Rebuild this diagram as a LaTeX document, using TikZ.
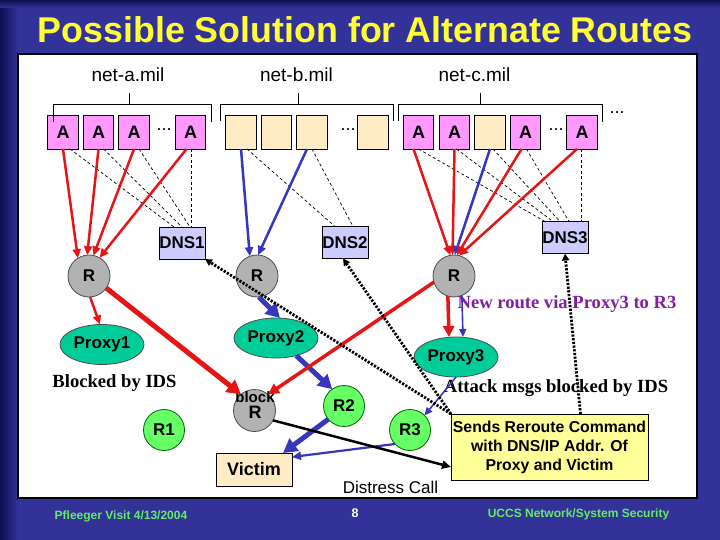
\documentclass[tikz,border=0pt]{standalone}
\usepackage{fontspec}
\setmainfont{Liberation Sans}
\newfontfamily\serifbold{Liberation Serif}
\usetikzlibrary{arrows.meta,shapes.geometric}

\definecolor{slidebg}{RGB}{50,50,152}
\definecolor{navyd}{RGB}{14,14,84}
\definecolor{ttl}{RGB}{255,255,51}
\definecolor{pinkA}{RGB}{255,153,255}
\definecolor{beigeB}{RGB}{255,236,196}
\definecolor{dnsc}{RGB}{204,204,255}
\definecolor{grayR}{RGB}{178,178,178}
\definecolor{proxyc}{RGB}{0,204,153}
\definecolor{greenR}{RGB}{102,255,102}
\definecolor{notec}{RGB}{255,255,153}
\definecolor{redl}{RGB}{230,20,20}
\definecolor{bluel}{RGB}{55,55,190}
\definecolor{purp}{RGB}{128,32,160}
\definecolor{footc}{RGB}{102,235,102}

\newcommand{\fs}[1]{\fontsize{#1}{#1}\selectfont}

\begin{document}
\begin{tikzpicture}[x=1pt,y=-1pt,
  every node/.style={inner sep=0pt,outer sep=0pt},
  abox/.style={draw=black,line width=0.8pt,fill=pinkA,minimum width=30.5pt,minimum height=34pt,font=\bfseries\fs{18}},
  bbox/.style={abox,fill=beigeB},
  dnsbox/.style={draw=black,line width=0.8pt,fill=dnsc,minimum width=46pt,minimum height=32pt,font=\bfseries\fs{17}},
  rnode/.style={circle,draw=black!70,line width=0.8pt,fill=grayR,minimum size=42pt,font=\bfseries\fs{17}},
  gnode/.style={circle,draw=black!60!green,line width=0.8pt,fill=greenR,minimum size=41pt,font=\bfseries\fs{17}},
  proxy/.style={ellipse,draw=black!70,line width=0.8pt,fill=proxyc,minimum width=84pt,minimum height=40pt,font=\bfseries\fs{17}},
  victimbox/.style={draw=black,line width=0.8pt,fill=beigeB,minimum width=76pt,minimum height=33pt,font=\bfseries\fs{18}},
  notebox/.style={draw=black,line width=0.8pt,fill=notec,minimum width=197pt,minimum height=66pt,align=center,font=\bfseries\fontsize{15.8}{19}\selectfont},
  lbl/.style={font=\fs{19},anchor=base},
  dotstxt/.style={font=\fs{18},anchor=base},
  sertxt/.style={font=\serifbold\bfseries\fs{18.6},anchor=base},
  bracket/.style={draw=black,line width=0.8pt},
  dashln/.style={draw=black,line width=0.7pt,dash pattern=on 3pt off 2.5pt},
  thinarr/.style={line width=2.5pt,-{Triangle[length=9pt,width=8pt]}},
  hairarr/.style={line width=1.6pt,-{Triangle[length=8pt,width=7pt]}},
  midarr/.style={line width=3.5pt,-{Triangle[length=11pt,width=11pt]}},
  fatarr/.style={line width=5pt,-{Triangle[length=14pt,width=15pt]}},
  dotarr/.style={draw=black,line width=2.8pt,dash pattern=on 2.2pt off 1.5pt,-{Triangle[length=7pt,width=7pt]}}
]
\useasboundingbox (0,0) rectangle (720,540);
% slide background
\fill[slidebg] (0,0) rectangle (720,540);
\shade[left color=navyd,right color=slidebg] (0,0) rectangle (18,540);
\shade[top color=navyd,bottom color=slidebg] (0,0) rectangle (720,8);

% title
\node[font=\bfseries\fs{35.8},text=ttl,anchor=base] (title) at (365,43) {Possible Solution for Alternate Routes};

% content area
\draw[black,line width=1.2pt,fill=white] (18,54) rectangle (697,498);

% network labels
\node[lbl] (neta) at (128,82) {net-a.mil};
\node[lbl] (netb) at (296.5,82) {net-b.mil};
\node[lbl] (netc) at (474.5,82) {net-c.mil};

% host boxes
\node[abox] (a1) at (63,132) {A};
\node[abox] (a2) at (98.5,132) {A};
\node[abox] (a3) at (134,132) {A};
\node[abox] (a4) at (190.5,132) {A};
\node[bbox] (b1) at (241,132) {};
\node[bbox] (b2) at (276.5,132) {};
\node[bbox] (b3) at (312,132) {};
\node[bbox] (b4) at (373,132) {};
\node[abox] (c1) at (418.5,132) {A};
\node[abox] (c2) at (454.5,132) {A};
\node[bbox] (c3) at (490,132) {};
\node[abox] (c4) at (525.5,132) {A};
\node[abox] (c5) at (582,132) {A};

\node[dotstxt] (dota) at (164,130.5) {...};
\node[dotstxt] (dotb) at (348,130.5) {...};
\node[dotstxt] (dotc) at (556,130.5) {...};
\node[dotstxt] (dotd) at (617,113.5) {...};

% brackets
\draw[bracket] (53,122) -- (53,104) -- (211,104) -- (211,122);
\draw[bracket] (129.5,104) -- (129.5,93);
\draw[bracket] (220,121) -- (220,104) -- (393.3,104) -- (393.3,121);
\draw[bracket] (298,104) -- (298,93);
\draw[bracket] (398.3,121) -- (398.3,104) -- (602.3,104) -- (602.3,122);
\draw[bracket] (480,104) -- (480,93);

% DNS servers
\node[dnsbox] (dns1) at (182,243) {DNS1};
\node[dnsbox] (dns2) at (345,242.5) {DNS2};
\node[dnsbox] (dns3) at (565,237.5) {DNS3};

% dashed DNS links
\draw[dashln] ([xshift=7pt]a1.south) -- ([xshift=-8pt]dns1.north);
\draw[dashln] ([xshift=5pt]a2.south) -- (dns1.north);
\draw[dashln] ([xshift=5pt]a3.south) -- ([xshift=8pt]dns1.north);
\draw[dashln] ([xshift=0.5pt]a4.south) -- ([xshift=9pt]dns1.north);
\draw[dashln] ([xshift=6pt]b1.south) -- ([xshift=-10pt]dns2.north);
\draw[dashln] (b3.south) -- ([xshift=8pt]dns2.north);
\draw[dashln] (c1.south) -- ([xshift=-20pt]dns3.north);
\draw[dashln] ([xshift=2pt]c2.south) -- ([xshift=-12pt]dns3.north);
\draw[dashln] ([xshift=3pt]c3.south) -- ([xshift=-5pt]dns3.north);
\draw[dashln] ([xshift=1pt]c4.south) -- ([xshift=4pt]dns3.north);
\draw[dashln] ([xshift=-1pt]c5.south) -- ([xshift=16pt]dns3.north);

% routers
\node[rnode] (ra) at (89,276) {R};
\node[rnode] (rb) at (257,276) {R};
\node[rnode] (rc) at (454,276) {R};

% proxies
\node[proxy] (p1) at (102,344.5) {Proxy1};
\node[proxy] (p2) at (276,338) {Proxy2};
\node[proxy] (p3) at (456,357) {Proxy3};

% lower routers
\node[rnode] (br) at (254.5,410.5) {};
\node[font=\bfseries\fs{15},anchor=base] (brlbl) at (255,402.5) {block};
\node[font=\bfseries\fs{18},anchor=base] (brR) at (255,418.5) {R};
\node[gnode] (r1) at (164,430) {R1};
\node[gnode] (r2) at (344,406) {R2};
\node[gnode] (r3) at (410,430) {R3};

\node[victimbox] (victim) at (254,469.5) {Victim};
\node[notebox] (note) at (549.5,447) {Sends Reroute Command\\with DNS/IP Addr. Of\\Proxy and Victim};

% texts
\node[sertxt] (blk) at (114.5,387) {Blocked by IDS};
\node[sertxt,text=purp] (newroute) at (567,308) {New route via Proxy3 to R3};
\node[sertxt] (attack) at (556,392) {Attack msgs blocked by IDS};
\node[font=\fs{17},anchor=base] (distress) at (390.5,493) {Distress Call};

% traffic from hosts to routers
\draw[redl,thinarr] (a1.south) -- (ra.122);
\draw[redl,thinarr] (a2.south) -- (ra.95);
\draw[redl,thinarr] (a3.south) -- (ra.78);
\draw[redl,thinarr] ([xshift=-4pt]a4.south) -- (ra.60);
\draw[bluel,thinarr] (b1.south) -- (rb.110);
\draw[bluel,thinarr] ([xshift=-5pt]b3.south) -- (rb.87);
\draw[redl,thinarr] ([xshift=-5pt]c1.south) -- (rc.100);
\draw[redl,thinarr] (c2.south) -- (rc.94);
\draw[bluel,thinarr] (c3.south) -- (rc.88);
\draw[redl,thinarr] ([xshift=-4pt]c4.south) -- (rc.82);
\draw[redl,thinarr] ([xshift=-5pt]c5.south) -- (rc.76);

% router outputs
\draw[redl,thinarr] (ra.-87) -- ([xshift=-2pt]p1.north);
\draw[redl,fatarr] (ra.-35) -- (br.130);
\draw[bluel,fatarr] (rb.-85) -- ([xshift=4pt]p2.north);
\draw[bluel,fatarr] (p2.-41) -- (r2.125);
\draw[redl,midarr] (rc.197) -- (br.50);
\draw[redl,midarr] (rc.-107) -- ([xshift=-7pt]p3.north);
\draw[bluel,hairarr] (rc.-68) -- ([xshift=7pt]p3.north);
\draw[bluel,hairarr] (p3.south) -- (r3.45);
\draw[bluel,fatarr] (r2.220) -- ([xshift=-9pt]victim.north east);
\draw[bluel,line width=2.2pt,-{Triangle[length=9pt,width=8pt]}] (r3.223) -- ([yshift=-4pt]victim.north east);
\draw[black,line width=2.5pt,-{Triangle[length=9pt,width=8pt]}] (br.-28) -- ([yshift=-20pt]note.west);

% reroute commands (dotted)
\draw[dotarr] (note.north west) -- (dns1.south east);
\draw[dotarr] (note.north west) -- ([xshift=-2pt]dns2.south);
\draw[dotarr] ([xshift=31pt]note.north) -- (dns3.south);

% footer
\node[font=\bfseries\fs{12},text=footc,anchor=base] (foot1) at (121,519) {Pfleeger Visit 4/13/2004};
\node[font=\bfseries\fs{12.5},text=white,anchor=base] (pagenum) at (355,517) {8};
\node[font=\bfseries\fs{12},text=footc,anchor=base] (foot2) at (578.5,517) {UCCS Network/System Security};
\end{tikzpicture}
\end{document}
